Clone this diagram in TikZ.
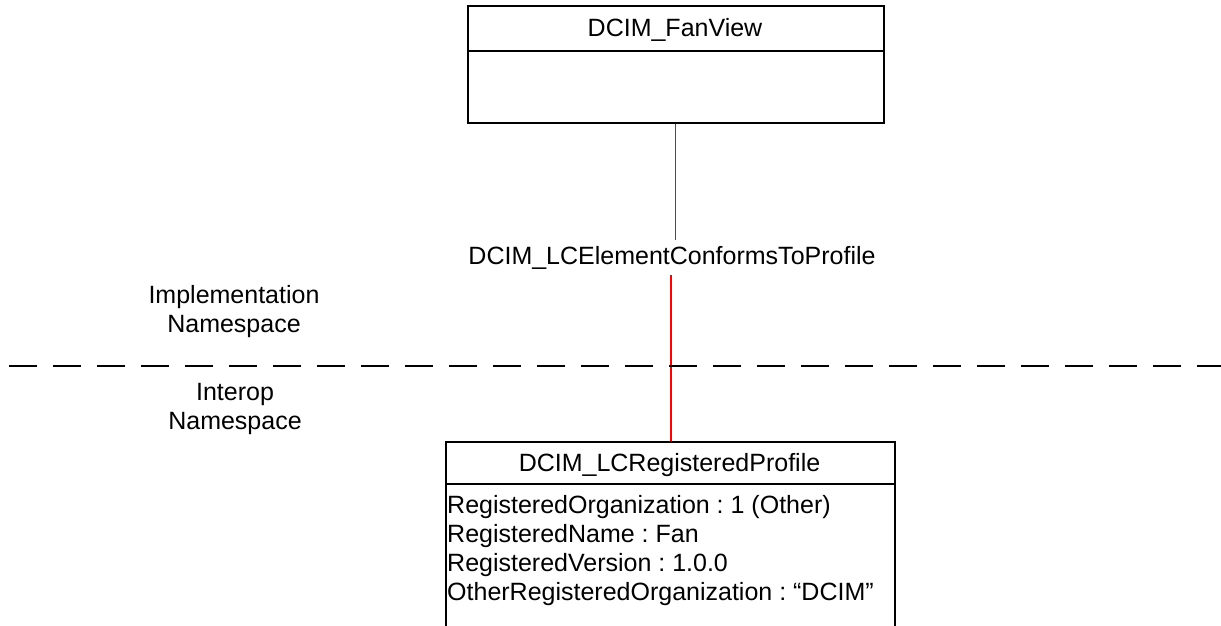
\documentclass[tikz,border=0pt]{standalone}
\usepackage{fontspec}
\setmainfont{Liberation Sans}
\frenchspacing
\begin{document}
\begin{tikzpicture}[x=1pt,y=-1pt,
  every node/.style={font=\fontsize{25}{29}\selectfont, text=black},
  classbox/.style={draw=black, line width=1.5pt, inner sep=0pt, anchor=north west},
  txt/.style={inner sep=0pt, anchor=base},
  attr/.style={inner sep=0pt, anchor=base west},
  divider/.style={draw=black, line width=1.5pt},
  assocline/.style={color=red, line width=1.3pt},
  nsline/.style={draw=black, line width=1.5pt, dash pattern=on 28pt off 16pt},
  nslabel/.style={inner sep=0pt, align=center, anchor=center}]
\useasboundingbox (0,0) rectangle (1221,625);
\clip (0,0) rectangle (1221,625);
\fill[white] (0,0) rectangle (1221,625);

% DCIM_FanView class
\node[classbox, minimum width=416pt, minimum height=117pt] (fan) at (467,5) {};
\draw[divider] (467,51) -- (883,51);
\node[txt] (fantitle) at (675,36) {DCIM\_FanView};

% DCIM_LCRegisteredProfile class
\node[classbox, minimum width=449pt, minimum height=220pt] (prof) at (445,441) {};
\draw[divider] (445,484) -- (894,484);
\node[txt] (proftitle) at (669.5,471.5) {DCIM\_LCRegisteredProfile};
\node[attr] (a1) at (447,513) {RegisteredOrganization : 1 (Other)};
\node[attr] (a2) at (447,542) {RegisteredName : Fan};
\node[attr] (a3) at (447,571) {RegisteredVersion : 1.0.0};
\node[attr] (a4) at (447,600) {OtherRegisteredOrganization : “DCIM”};

% association
\node[inner xsep=0pt, inner ysep=6pt, anchor=base] (assoc) at (672,264) {DCIM\_LCElementConformsToProfile};
\draw[assocline] (fan.south) -- (fan.south |- assoc.north);
\draw[assocline] (assoc.south -| 671,0) -- (prof.north -| 671,0);

% namespace separator
\coordinate (nsL) at (9,366);
\coordinate (nsR) at (1221,366);
\draw[nsline] (nsL) -- (nsR);
\node[nslabel] (impl) at (234,312) {Implementation\\Namespace};
\node[nslabel] (interop) at (235,409) {Interop\\Namespace};
\end{tikzpicture}
\end{document}
